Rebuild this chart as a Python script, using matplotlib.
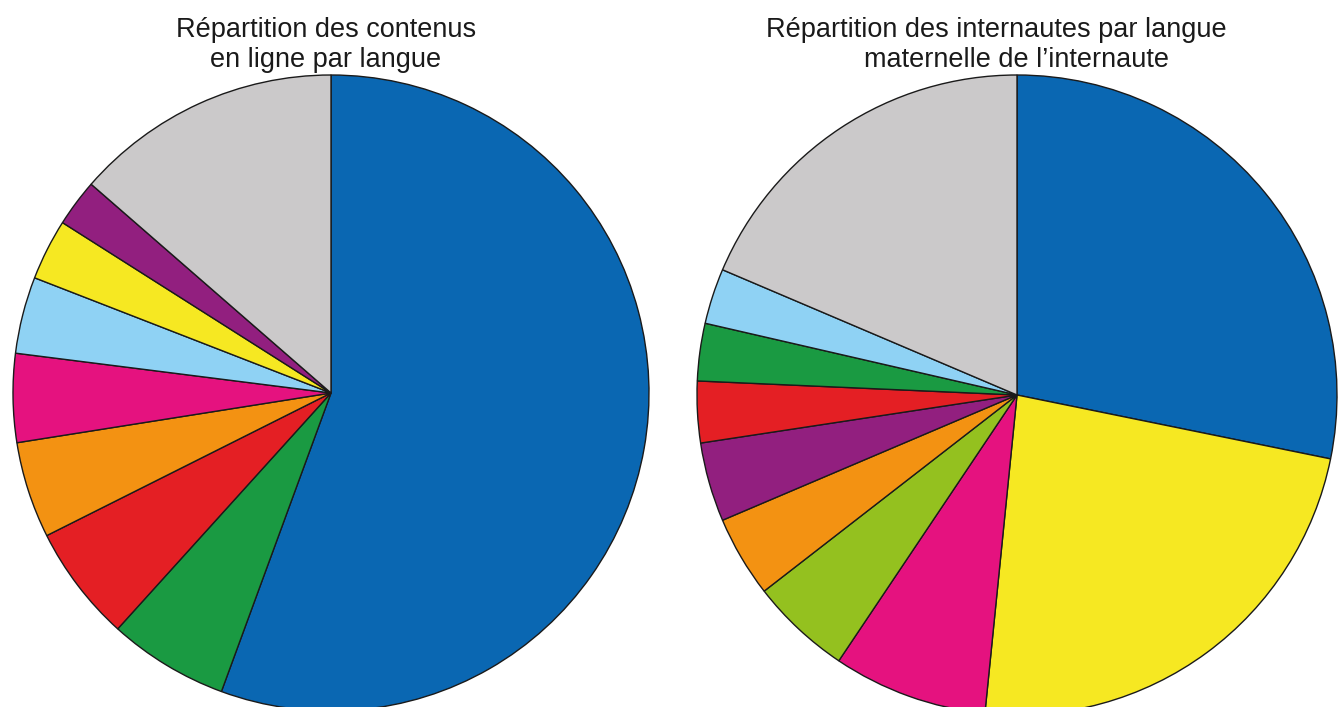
import matplotlib
matplotlib.use("Agg")
import matplotlib.pyplot as plt

plt.rcParams['font.family'] = ['Liberation Sans', 'DejaVu Sans']

# Contenus en ligne par langue (%)
langues_contenus = ["anglais", "russe", "allemand", "japonais", "espagnol",
                    "français", "chinois", "portugais", "autres"]
parts_contenus = [55.6, 6.1, 5.9, 4.9, 4.5, 3.9, 3.1, 2.4, 13.6]

# Internautes par langue maternelle (%)
langues_internautes = ["anglais", "chinois", "espagnol", "arabe", "japonais",
                       "portugais", "allemand", "russe", "français", "autres"]
parts_internautes = [28.2, 23.4, 7.8, 5.1, 4.1, 4.0, 3.1, 2.9, 2.8, 18.6]

couleurs = {
    "anglais": "#0a67b2",
    "russe": "#1a9a42",
    "allemand": "#e41f24",
    "japonais": "#f39212",
    "espagnol": "#e5127f",
    "français": "#8fd2f4",
    "chinois": "#f6e822",
    "portugais": "#921f7f",
    "arabe": "#94c11f",
    "autres": "#cbc9ca",
}

W, H = 1341, 707
fig = plt.figure(figsize=(W / 100, H / 100), dpi=100)
ax = fig.add_axes([0, 0, 1, 1])

style = dict(startangle=90, counterclock=False, frame=True,
             wedgeprops=dict(edgecolor="#1a1a1a", linewidth=1.0))

ax.pie(parts_contenus, colors=[couleurs[l] for l in langues_contenus],
       center=(331, H - 393), radius=318, **style)
ax.pie(parts_internautes, colors=[couleurs[l] for l in langues_internautes],
       center=(1017, H - 395), radius=320, **style)

ax.set_xlim(0, W)
ax.set_ylim(0, H)
ax.set_aspect("equal")
ax.axis("off")

# Titres
kw = dict(ha="center", va="center", fontsize=19.5, color="#1a1a1a")
fig.text(326 / W, 1 - 30 / H, "Répartition des contenus", **kw)
fig.text(326 / W, 1 - 60 / H, "en ligne par langue", **kw)
fig.text(996 / W, 1 - 30 / H, "Répartition des internautes par langue", **kw)
fig.text(1016 / W, 1 - 60 / H, "maternelle de l’internaute", **kw)

fig.savefig("out.png", dpi=100)
